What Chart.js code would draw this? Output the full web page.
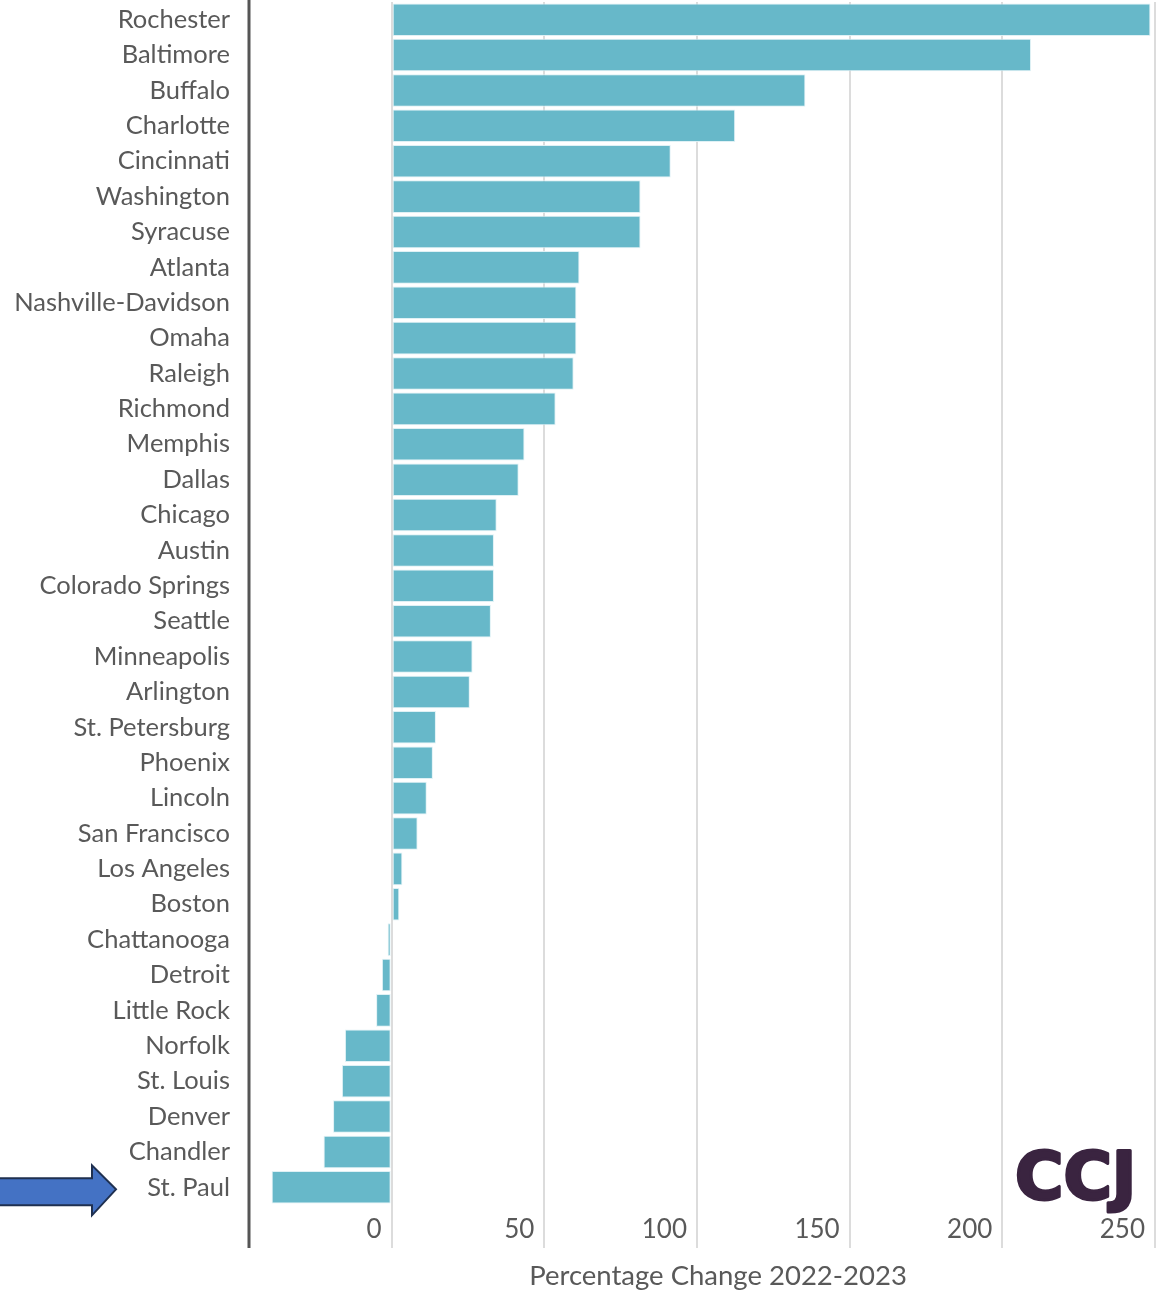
<!DOCTYPE html>
<html>
<head>
<meta charset="utf-8">
<script src="https://cdn.jsdelivr.net/npm/chart.js@4"></script>
<style>
  html, body { margin: 0; padding: 0; background: #fff; }
  #wrap { position: relative; width: 1170px; height: 1291px; }
</style>
</head>
<body>
<div id="wrap"><canvas id="chart" width="1170" height="1291"></canvas></div>
<script>
const cities = [
    'Rochester', 'Baltimore', 'Buffalo', 'Charlotte', 'Cincinnati', 'Washington',
    'Syracuse', 'Atlanta', 'Nashville-Davidson', 'Omaha', 'Raleigh', 'Richmond',
    'Memphis', 'Dallas', 'Chicago', 'Austin', 'Colorado Springs', 'Seattle',
    'Minneapolis', 'Arlington', 'St. Petersburg', 'Phoenix', 'Lincoln',
    'San Francisco', 'Los Angeles', 'Boston', 'Chattanooga', 'Detroit',
    'Little Rock', 'Norfolk', 'St. Louis', 'Denver', 'Chandler', 'St. Paul'
];
const pctChange = [
    248.5, 209.4, 135.5, 112.5, 91.4, 81.5,
    81.5, 61.5, 60.5, 60.5, 59.6, 53.7,
    43.5, 41.6, 34.4, 33.5, 33.5, 32.5,
    26.5, 25.6, 14.5, 13.5, 11.5,
    8.5, 3.5, 2.5, -1.3, -3.2,
    -5.1, -15.3, -16.3, -19.2, -22.3, -39.3
];
const xTicks = [0, 50, 100, 150, 200, 250];
const xTitle = 'Percentage Change 2022-2023';
const highlighted = 'St. Paul';

const textGray = '#595959';
const gridGray = '#dcdcdc';

// axis line, title, arrow and logo drawn on top of the chart
const extras = {
    id: 'extras',
    afterDraw(chart) {
        const ctx = chart.ctx;
        const area = chart.chartArea;
        const y = chart.scales.y;

        ctx.save();
        ctx.strokeStyle = '#555';
        ctx.lineWidth = 3;
        ctx.beginPath();
        ctx.moveTo(area.left - 1, 0);
        ctx.lineTo(area.left - 1, area.bottom + 43);
        ctx.stroke();

        ctx.fillStyle = textGray;
        ctx.font = "27.5px Lato";
        ctx.textAlign = 'center';
        ctx.textBaseline = 'middle';
        ctx.fillText(xTitle, 718, 1276);

        // arrow pointing at the highlighted city
        const py = y.getPixelForValue(cities.indexOf(highlighted)) + 2;
        ctx.beginPath();
        ctx.moveTo(-2, py - 11);
        ctx.lineTo(92, py - 11);
        ctx.lineTo(92, py - 24);
        ctx.lineTo(116, py);
        ctx.lineTo(92, py + 26);
        ctx.lineTo(92, py + 16);
        ctx.lineTo(-2, py + 16);
        ctx.closePath();
        ctx.fillStyle = '#4472c4';
        ctx.fill();
        ctx.strokeStyle = '#1f3050';
        ctx.lineWidth = 2;
        ctx.stroke();

        ctx.fillStyle = '#3a2440';
        ctx.strokeStyle = '#3a2440';
        ctx.lineWidth = 3;
        ctx.lineJoin = 'round';
        ctx.font = "bold 66px 'DejaVu Sans'";
        ctx.textAlign = 'left';
        ctx.textBaseline = 'alphabetic';
        ctx.fillText('CCJ', 1015, 1199);
        ctx.strokeText('CCJ', 1015, 1199);
        ctx.restore();
    }
};

new Chart(document.getElementById('chart').getContext('2d'), {
    type: 'bar',
    data: {
        labels: cities,
        datasets: [{
            data: pctChange,
            backgroundColor: '#67b8c9',
            borderColor: 'rgba(220, 240, 244, 0.9)',
            borderWidth: 1,
            borderSkipped: false,
            categoryPercentage: 1,
            barPercentage: 0.92
        }]
    },
    options: {
        indexAxis: 'y',
        responsive: false,
        animation: false,
        layout: { padding: { top: 2, right: 15, bottom: 0, left: 0 } },
        plugins: {
            legend: { display: false },
            tooltip: { enabled: false }
        },
        scales: {
            x: {
                min: -46.4,
                max: 250,
                afterBuildTicks: scale => {
                    scale.ticks = xTicks.map(v => ({ value: v }));
                },
                afterFit: scale => { scale.height = 86; },
                grid: {
                    color: gridGray,
                    lineWidth: 2,
                    drawTicks: true,
                    tickLength: 43
                },
                border: { display: false },
                ticks: {
                    align: 'end',
                    labelOffset: -10,
                    padding: -34,
                    color: textGray,
                    font: { family: 'Lato', size: 26 }
                }
            },
            y: {
                afterFit: scale => {
                    scale.width = 250;
                    scale.paddingTop = 0;
                    scale.paddingBottom = 0;
                },
                grid: { display: false, drawTicks: false },
                border: { display: false },
                ticks: {
                    padding: 20,
                    color: textGray,
                    font: { family: 'Lato', size: 25.5 },
                    autoSkip: false
                }
            }
        }
    },
    plugins: [extras]
});
</script>
</body>
</html>
